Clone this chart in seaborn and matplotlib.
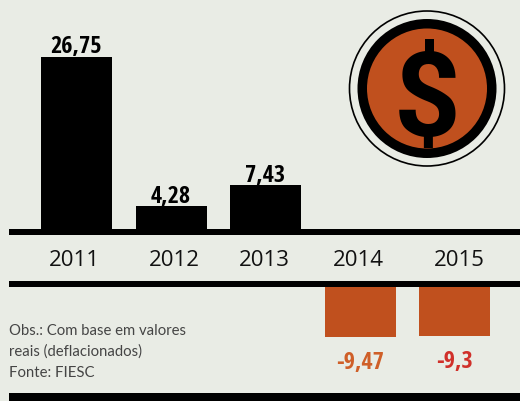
import matplotlib
matplotlib.use("Agg")
import matplotlib.pyplot as plt
from matplotlib.patches import Circle
import seaborn as sns

# ---- data ----
years = ["2011", "2012", "2013", "2014", "2015"]
pos_years = ["2011", "2012", "2013"]
pos_values = [26.75, 4.28, 7.43]
pos_labels = ["26,75", "4,28", "7,43"]
neg_years = ["2014", "2015"]
neg_values = [-9.47, -9.3]
neg_labels = ["-9,47", "-9,3"]
note_lines = ["Obs.: Com base em valores", "reais (deflacionados)", "Fonte: FIESC"]

# ---- style ----
BG = "#E9ECE5"
ORANGE = "#C0501E"
W, H = 520, 402
sns.set_theme(style="white", rc={"figure.facecolor": BG, "axes.facecolor": "none"})
COND = ["Open Sans Condensed", "Liberation Sans"]
REG = ["Open Sans", "DejaVu Sans"]
NOTE = ["Lato", "DejaVu Sans"]
ICON = ["Roboto", "Liberation Sans"]

fig = plt.figure(figsize=(W / 100, H / 100), dpi=100, facecolor=BG)
X0, XSTEP, BARW = 76.5, 94.5, 71 / 94.5
xlim = (-X0 / XSTEP, (W - X0) / XSTEP)

def px_axes(top, bottom):
    return fig.add_axes([0, (H - bottom) / H, 1, (bottom - top) / H])

# top panel (zero at the foot of the baseline)
ax = px_axes(0, 235.5)
sns.barplot(x=pos_years, y=pos_values, order=years, color="black", saturation=1,
            width=BARW, linewidth=0, edgecolor="none", ax=ax)
ax.set_xlim(*xlim)
ax.set_ylim(0, 235.5 / 6.65)
ax.axis("off")
bars = [p for p in ax.patches if p.get_height() > 0]
for p, lab in zip(bars, pos_labels):
    ax.annotate(lab, (p.get_x() + p.get_width() / 2, p.get_height()), xytext=(0, 3),
                textcoords="offset points", ha="center", va="baseline",
                fontsize=17.5, fontweight="bold", family=COND, color="black")

# bottom panel (zero at the foot of the second rule)
ax2 = px_axes(287.5, 402)
sns.barplot(x=neg_years, y=neg_values, order=years, color=ORANGE, saturation=1,
            width=BARW, linewidth=0, edgecolor="none", ax=ax2)
ax2.set_xlim(*xlim)
ax2.set_ylim(-114.5 / 5.35, 0)
ax2.axis("off")
neg_colors = ["#CF5F28", "#D0302A"]
bars2 = [p for p in ax2.patches if p.get_height() < 0]
for p, lab, col in zip(bars2, neg_labels, neg_colors):
    ax2.annotate(lab, (p.get_x() + p.get_width() / 2, p.get_height()), xytext=(0, -22),
                 textcoords="offset points", ha="center", va="baseline",
                 fontsize=17.5, fontweight="bold", family=COND, color=col)

# overlay in pixel coordinates: rules, year labels, note, icon
ov = fig.add_axes([0, 0, 1, 1], zorder=5)
ov.set_xlim(0, W)
ov.set_ylim(H, 0)
ov.axis("off")
for y0, y1 in [(230, 235.5), (282.3, 287.6), (394.4, 402)]:
    ov.fill_between([9, W], y0, y1, color="black", lw=0)
for lab, cx in zip(years, [74.5, 174, 264, 358, 459]):
    ov.text(cx, 266, lab, ha="center", va="baseline", fontsize=16, family=REG, color="#111111")
for line, y in zip(note_lines, [335, 356, 376.7]):
    ov.text(9, y, line, ha="left", va="baseline", fontsize=10.7, family=NOTE, color="#454545")

cx, cy = 427, 89.5
ov.add_patch(Circle((cx, cy), 77.5, fc="none", ec="black", lw=1.2))
ov.add_patch(Circle((cx, cy), 69.5, fc="black", ec="none"))
ov.add_patch(Circle((cx, cy), 60, fc=ORANGE, ec="none"))
ov.text(cx, 92, "$", ha="center", va="center_baseline", fontsize=84, fontweight="bold",
        family=ICON, color="black")

fig.savefig("out.png", dpi=100, facecolor=BG)
